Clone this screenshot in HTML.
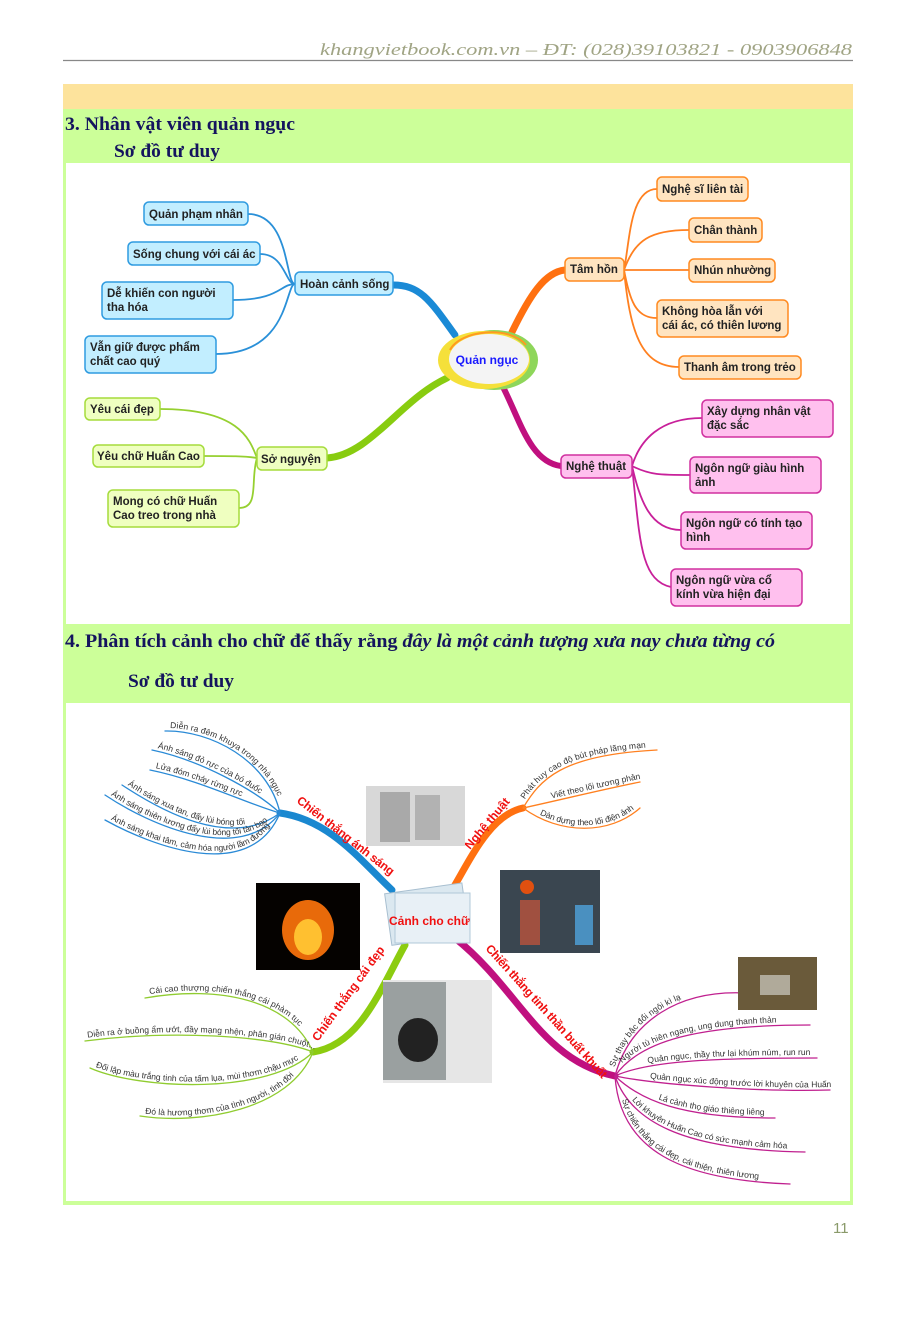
<!DOCTYPE html>
<html><head><meta charset="utf-8"><style>
html,body{margin:0;padding:0;background:#fff;}
svg{display:block;}
.t{font-family:"Liberation Serif",serif;font-weight:bold;fill:#14145e;font-size:19px;}
.b{font-family:"Liberation Sans",sans-serif;font-weight:bold;font-size:11.5px;fill:#222;}
.l{font-family:"Liberation Sans",sans-serif;font-size:8.5px;fill:#333;}
.r{font-family:"Liberation Sans",sans-serif;font-weight:bold;font-size:12px;fill:#f01010;}
</style></head><body>
<svg width="923" height="1319" viewBox="0 0 923 1319" xmlns="http://www.w3.org/2000/svg">
<text x="320" y="55" textLength="532" lengthAdjust="spacingAndGlyphs" font-family="Liberation Serif,serif" font-style="italic" font-size="17" fill="#a0a484">khangvietbook.com.vn – ĐT: (028)39103821 - 0903906848</text>
<line x1="63" y1="60.5" x2="853" y2="60.5" stroke="#888" stroke-width="1.2"/>
<rect x="63" y="84" width="790" height="25" fill="#fde39c"/>
<rect x="63" y="109" width="790" height="1096" fill="#ccff99"/>
<rect x="66" y="163" width="784" height="461" fill="#fff"/>
<rect x="66" y="703" width="784" height="498" fill="#fff"/>
<text class="t" x="65" y="130" textLength="230" lengthAdjust="spacingAndGlyphs">3. Nhân vật viên quản ngục</text>
<text class="t" x="114" y="157" textLength="106" lengthAdjust="spacingAndGlyphs">Sơ đồ tư duy</text>
<text class="t" x="65" y="647" textLength="710" lengthAdjust="spacingAndGlyphs">4. Phân tích cảnh cho chữ để thấy rằng <tspan font-style="italic">đây là một cảnh tượng xưa nay chưa từng có</tspan></text>
<text class="t" x="128" y="687" textLength="106" lengthAdjust="spacingAndGlyphs">Sơ đồ tư duy</text>
<text x="833" y="1233" font-family="Liberation Sans,sans-serif" font-size="15" fill="#8a9a6a">11</text>

<g fill="none" stroke-linecap="round">
<path d="M455,335 C430,300 420,285 393,285" stroke="#1a8ad6" stroke-width="7"/>
<path d="M447,378 C400,400 370,455 327,458" stroke="#88cc10" stroke-width="7"/>
<path d="M512,332 C530,295 545,272 565,270" stroke="#ff7010" stroke-width="7"/>
<path d="M503,387 C520,420 530,462 561,466" stroke="#c0107f" stroke-width="6"/>
<g stroke="#2a90d8" stroke-width="1.8">
<path d="M295,284 C285,284 290,214 248,214"/>
<path d="M295,284 C285,284 285,254 260,254"/>
<path d="M295,284 C280,284 280,300 233,300"/>
<path d="M295,284 C285,284 290,354 216,354"/>
</g>
<g stroke="#96d030" stroke-width="1.8">
<path d="M257,458 C250,440 240,409 160,409"/>
<path d="M257,458 C245,456 230,456 204,456"/>
<path d="M257,458 C250,480 260,508 239,508"/>
</g>
<g stroke="#ff8020" stroke-width="1.8">
<path d="M624,270 C630,240 630,189 657,189"/>
<path d="M624,270 C635,240 650,230 689,230"/>
<path d="M624,270 L689,270"/>
<path d="M624,270 C630,300 635,318 657,318"/>
<path d="M624,270 C630,330 640,367 679,367"/>
</g>
<g stroke="#c8209a" stroke-width="1.8">
<path d="M632,466 C640,440 660,418 702,418"/>
<path d="M632,466 C650,475 660,475 690,475"/>
<path d="M632,466 C640,500 650,530 681,530"/>
<path d="M632,466 C640,540 640,580 671,587"/>
</g>
</g>
<ellipse cx="494" cy="360" rx="44" ry="30" fill="#8ed65a"/>
<ellipse cx="484" cy="360" rx="46" ry="29" fill="#f5e03a"/>
<ellipse cx="489" cy="359" rx="40" ry="25" fill="#f4f4f4"/>
<path d="M450,350 C460,330 510,325 526,345" fill="none" stroke="#ff9a20" stroke-width="2"/>
<text x="487" y="364" text-anchor="middle" font-family="Liberation Sans,sans-serif" font-weight="bold" font-size="12" fill="#1a1aff">Quản ngục</text>

<g stroke-width="1.5">
<g fill="#c2eeff" stroke="#2f9be0">
<rect x="144" y="202" width="104" height="23" rx="5"/>
<rect x="128" y="242" width="132" height="23" rx="5"/>
<rect x="102" y="282" width="131" height="37" rx="5"/>
<rect x="85" y="336" width="131" height="37" rx="5"/>
<rect x="295" y="272" width="98" height="23" rx="5"/>
</g>
<g fill="#efffc0" stroke="#a5dc3c">
<rect x="85" y="398" width="75" height="22" rx="5"/>
<rect x="93" y="445" width="111" height="22" rx="5"/>
<rect x="108" y="490" width="131" height="37" rx="5"/>
<rect x="257" y="447" width="70" height="23" rx="5"/>
</g>
<g fill="#ffe4c0" stroke="#ff8a20">
<rect x="565" y="258" width="59" height="23" rx="5"/>
<rect x="657" y="177" width="91" height="24" rx="5"/>
<rect x="689" y="218" width="73" height="24" rx="5"/>
<rect x="689" y="259" width="86" height="23" rx="5"/>
<rect x="657" y="300" width="131" height="37" rx="5"/>
<rect x="679" y="356" width="122" height="23" rx="5"/>
</g>
<g fill="#ffc0ee" stroke="#d0309f">
<rect x="561" y="455" width="71" height="23" rx="5"/>
<rect x="702" y="400" width="131" height="37" rx="5"/>
<rect x="690" y="457" width="131" height="36" rx="5"/>
<rect x="681" y="512" width="131" height="37" rx="5"/>
<rect x="671" y="569" width="131" height="37" rx="5"/>
</g>
</g>
<g class="b">
<text x="149" y="218">Quản phạm nhân</text>
<text x="133" y="258">Sống chung với cái ác</text>
<text x="107" y="297">Dễ khiến con người</text><text x="107" y="311">tha hóa</text>
<text x="90" y="351">Vẫn giữ được phẩm</text><text x="90" y="365">chất cao quý</text>
<text x="300" y="288">Hoàn cảnh sống</text>
<text x="90" y="413">Yêu cái đẹp</text>
<text x="97" y="460">Yêu chữ Huấn Cao</text>
<text x="113" y="505">Mong có chữ Huấn</text><text x="113" y="519">Cao treo trong nhà</text>
<text x="261" y="463">Sở nguyện</text>
<text x="570" y="273">Tâm hồn</text>
<text x="662" y="193">Nghệ sĩ liên tài</text>
<text x="694" y="234">Chân thành</text>
<text x="694" y="274">Nhún nhường</text>
<text x="662" y="315">Không hòa lẫn với</text><text x="662" y="329">cái ác, có thiên lương</text>
<text x="684" y="371">Thanh âm trong trẻo</text>
<text x="566" y="470">Nghệ thuật</text>
<text x="707" y="415">Xây dựng nhân vật</text><text x="707" y="429">đặc sắc</text>
<text x="695" y="472">Ngôn ngữ giàu hình</text><text x="695" y="486">ảnh</text>
<text x="686" y="527">Ngôn ngữ có tính tạo</text><text x="686" y="541">hình</text>
<text x="676" y="584">Ngôn ngữ vừa cổ</text><text x="676" y="598">kính vừa hiện đại</text>
</g>

<defs>
<path id="a1" d="M165,731 C210,730 268,760 280,813"/>
<path id="a2" d="M152,750 C200,760 255,790 280,813"/>
<path id="a3" d="M150,770 C200,780 250,805 280,813"/>
<path id="a4" d="M122,785 C160,810 230,850 280,813"/>
<path id="a5" d="M105,795 C150,825 240,865 280,813"/>
<path id="a6" d="M105,820 C150,845 250,885 280,813"/>
<path id="o1" d="M523,808 C540,780 560,755 657,750"/>
<path id="o2" d="M523,808 C560,800 600,790 640,782"/>
<path id="o3" d="M523,808 C560,835 610,835 640,808"/>
<path id="g1" d="M145,998 C220,985 290,1000 313,1052"/>
<path id="g2" d="M85,1041 C170,1030 270,1035 313,1052"/>
<path id="g3" d="M90,1068 C140,1090 270,1095 313,1052"/>
<path id="g4" d="M140,1116 C200,1125 290,1110 313,1052"/>
<path id="m1" d="M615,1076 C630,1020 680,990 745,993"/>
<path id="m2" d="M615,1076 C640,1040 700,1025 810,1025"/>
<path id="m3" d="M615,1076 C650,1060 720,1058 817,1058"/>
<path id="m4" d="M615,1076 C660,1085 760,1092 830,1090"/>
<path id="m5" d="M615,1076 C640,1100 680,1118 775,1118"/>
<path id="m6" d="M615,1076 C630,1120 680,1150 805,1152"/>
<path id="m7" d="M615,1076 C620,1150 680,1180 790,1184"/>
</defs>
<g fill="none" stroke-linecap="round">
<path d="M392,890 C360,860 330,820 280,813" stroke="#1a88d0" stroke-width="7"/>
<path d="M452,890 C470,860 490,815 523,808" stroke="#ff7010" stroke-width="7"/>
<path d="M405,945 C380,990 360,1045 313,1052" stroke="#8ccc10" stroke-width="7"/>
<path d="M455,938 C520,990 540,1060 615,1076" stroke="#c0107f" stroke-width="7"/>
<g stroke="#2a8ad6" stroke-width="1.3"><use href="#a1"/><use href="#a2"/><use href="#a3"/><use href="#a4"/><use href="#a5"/><use href="#a6"/></g>
<g stroke="#ff8020" stroke-width="1.3"><use href="#o1"/><use href="#o2"/><use href="#o3"/></g>
<g stroke="#90cc30" stroke-width="1.3"><use href="#g1"/><use href="#g2"/><use href="#g3"/><use href="#g4"/></g>
<g stroke="#c0208f" stroke-width="1.3"><use href="#m1"/><use href="#m2"/><use href="#m3"/><use href="#m4"/><use href="#m5"/><use href="#m6"/><use href="#m7"/></g>
</g>
<g class="l">
<text dy="-3"><textPath href="#a1" startOffset="5">Diễn ra đêm khuya trong nhà ngục</textPath></text>
<text dy="-3"><textPath href="#a2" startOffset="5">Ánh sáng đỏ rực của bó đuốc</textPath></text>
<text dy="-3"><textPath href="#a3" startOffset="5">Lửa đóm cháy rừng rực</textPath></text>
<text dy="-3"><textPath href="#a4" startOffset="5">Ánh sáng xua tan, đẩy lùi bóng tối</textPath></text>
<text dy="-3"><textPath href="#a5" startOffset="5">Ánh sáng thiên lương đẩy lùi bóng tối tàn bạo</textPath></text>
<text dy="-3"><textPath href="#a6" startOffset="5">Ánh sáng khai tâm, cảm hóa người lầm đường</textPath></text>
<text dy="-3"><textPath href="#o1" startOffset="8">Phát huy cao độ bút pháp lãng mạn</textPath></text>
<text dy="-3"><textPath href="#o2" startOffset="30">Viết theo lối tương phản</textPath></text>
<text dy="-3"><textPath href="#o3" startOffset="18">Dàn dựng theo lối điện ảnh</textPath></text>
<text dy="-3"><textPath href="#g1" startOffset="5">Cái cao thượng chiến thắng cái phàm tục</textPath></text>
<text dy="-3"><textPath href="#g2" startOffset="3">Diễn ra ở buồng ẩm ướt, đầy mạng nhện, phân gián chuột...</textPath></text>
<text dy="-3"><textPath href="#g3" startOffset="5">Đối lập màu trắng tinh của tấm lụa, mùi thơm chậu mực</textPath></text>
<text dy="-3"><textPath href="#g4" startOffset="5">Đó là hương thơm của tình người, tình đời</textPath></text>
<text dy="-3"><textPath href="#m1" startOffset="8">Sự thay bậc đổi ngôi kì lạ</textPath></text>
<text dy="-3"><textPath href="#m2" startOffset="14">Người tù hiên ngang, ung dung thanh thản</textPath></text>
<text dy="-3"><textPath href="#m3" startOffset="35">Quản ngục, thầy thư lại khúm núm, run run</textPath></text>
<text dy="-3"><textPath href="#m4" startOffset="35">Quản ngục xúc động trước lời khuyên của Huấn</textPath></text>
<text dy="-3"><textPath href="#m5" startOffset="50">Lá cảnh thọ giáo thiêng liêng</textPath></text>
<text dy="-3"><textPath href="#m6" startOffset="30">Lời khuyên Huấn Cao có sức mạnh cảm hóa</textPath></text>
<text dy="-3"><textPath href="#m7" startOffset="25">Sự chiến thắng cái đẹp, cái thiện, thiên lương</textPath></text>
</g>
<g class="r">
<text transform="translate(296,802) rotate(38)" textLength="120">Chiến thắng ánh sáng</text>
<text transform="translate(470,850) rotate(-50)">Nghệ thuật</text>
<text transform="translate(318,1042) rotate(-54)">Chiến thắng cái đẹp</text>
<text transform="translate(485,949) rotate(48)" textLength="175">Chiến thắng tinh thần buất khuất</text>
</g>
<rect x="366" y="786" width="99" height="60" fill="#d8d8d8"/>
<rect x="380" y="792" width="30" height="50" fill="#8a8a8a" opacity="0.6"/><rect x="415" y="795" width="25" height="45" fill="#999" opacity="0.6"/>
<rect x="256" y="883" width="104" height="87" fill="#050200"/>
<ellipse cx="308" cy="930" rx="26" ry="30" fill="#e86a0a"/><ellipse cx="308" cy="937" rx="14" ry="18" fill="#ffc030"/>
<rect x="500" y="870" width="100" height="83" fill="#3a4650"/>
<rect x="520" y="900" width="20" height="45" fill="#a05040"/><rect x="575" y="905" width="18" height="40" fill="#4a90c0"/><circle cx="527" cy="887" r="7" fill="#e05010"/>
<rect x="383" y="980" width="109" height="103" fill="#e6e6e6"/>
<rect x="383" y="982" width="63" height="98" fill="#9aa0a0"/><ellipse cx="418" cy="1040" rx="20" ry="22" fill="#222"/>
<rect x="738" y="957" width="79" height="53" fill="#6a5a3a"/><rect x="760" y="975" width="30" height="20" fill="#b0aa9a"/>
<g transform="rotate(-8 428 915)"><rect x="388" y="888" width="78" height="52" fill="#dbe8f0" stroke="#a8bfd0"/></g>
<rect x="395" y="893" width="75" height="50" fill="#e8f0f6" stroke="#b0c8d8"/>
<text x="389" y="925" font-family="Liberation Sans,sans-serif" font-weight="bold" font-size="12" fill="#f01010">Cảnh cho chữ</text>
</svg>
</body></html>
